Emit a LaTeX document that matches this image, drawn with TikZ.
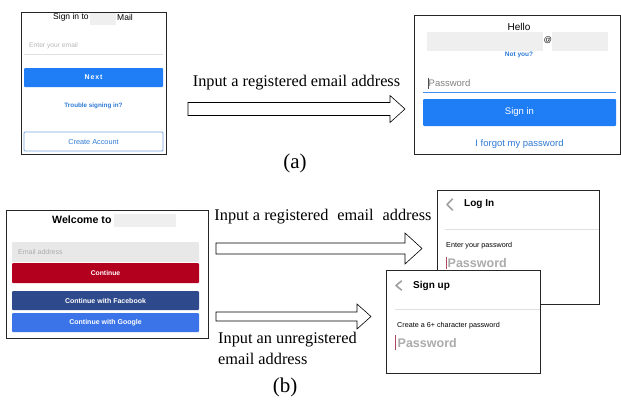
\documentclass[tikz,border=0pt]{standalone}
\usepackage{fontspec}
\setmainfont{Liberation Serif}
\newfontfamily\uifont{Liberation Sans}

\definecolor{btnblue}{HTML}{1F7EF6}
\definecolor{linkblue}{HTML}{2F7AD6}
\definecolor{fieldgray}{HTML}{EFEFEF}
\definecolor{hintgray}{HTML}{ABABAB}
\definecolor{pinred}{HTML}{B3001E}
\definecolor{fbblue}{HTML}{2E4A8C}
\definecolor{googblue}{HTML}{3B74E8}
\definecolor{cursorred}{HTML}{B0485F}
\definecolor{chevgray}{HTML}{A0A0A0}

% block arrow: left x, head start x, tip x, mid y, half shaft, half head
\newcommand\blockarrow[6]{%
  \draw[arrowbody] (#1,#4-#5) -- (#2,#4-#5) -- (#2,#4-#6) -- (#3,#4)
    -- (#2,#4+#6) -- (#2,#4+#5) -- (#1,#4+#5) -- cycle;}

\begin{document}
\begin{tikzpicture}[x=1pt,y=-1pt,
  ui/.style={inner sep=0pt, font=\uifont\fontsize{#1}{#1}\selectfont},
  uib/.style={inner sep=0pt, font=\uifont\bfseries\fontsize{#1}{#1}\selectfont},
  lbl/.style={inner sep=0pt, font=\fontsize{16.3}{18}\selectfont},
  tag/.style={inner sep=0pt, font=\fontsize{21}{23}\selectfont},
  panel/.style={draw=black!85, line width=0.8pt, fill=white},
  arrowbody/.style={draw=black, line width=0.6pt, fill=white, line join=miter},
  sep/.style={draw=black!12, line width=0.6pt},
  chev/.style={draw=chevgray, line width=1.6pt, line cap=round, line join=round},
  cursor/.style={draw=cursorred, line width=1.2pt},
  btn/.style={rounded corners=1pt}]
\useasboundingbox (0,0) rectangle (621,399);
\fill[white] (0,0) rectangle (621,399);

% ---------------- (a) sign-in screen ----------------
\draw[panel] (21,12) rectangle (166,154);
\node[ui=8.5, anchor=west] (a-title) at (53,17.5) {Sign in to};
\fill[fieldgray] (90,12.8) rectangle (116,25);
\node[ui=8.5, anchor=west] (a-mail) at (117,17.5) {Mail};
\node[ui=6.7, anchor=west, text=hintgray!85] (a-hint) at (29,46) {Enter your email};
\draw[sep] (24,54) -- (163,54);
\fill[btnblue, btn] (24,68) rectangle (163,87);
\node[uib=7, text=white] (a-next) at (93.5,77.5) {\addfontfeature{LetterSpace=12}Next};
\node[ui=6.3, text=linkblue] (a-trouble) at (93.5,106) {\bfseries Trouble signing in?};
\draw[draw=linkblue!65, line width=0.8pt, btn] (24,132) rectangle (163,151);
\node[ui=7.3, text=linkblue] (a-create) at (93.5,142) {Create Account};

% ---------------- (a) password screen ----------------
\draw[panel] (414,15) rectangle (620,154);
\node[ui=10] (a-hello) at (519,27) {Hello};
\fill[fieldgray] (427,32) rectangle (543,51);
\fill[fieldgray] (552,32) rectangle (608,51);
\node[ui=8] (a-at) at (548,40) {@};
\node[uib=6.5, text=linkblue] (a-notyou) at (519,55) {Not you?};
\draw[black!70, line width=0.6pt] (428,77.5) -- (428,88.5);
\node[ui=9.5, anchor=west, text=black!50] (a-pw) at (428.5,83) {Password};
\draw[btnblue!85, line width=1pt] (423,92) -- (616,92);
\fill[btnblue, btn] (423,99) rectangle (616,126);
\node[ui=9.5, text=white] (a-signin) at (519.5,112.5) {Sign in};
\node[ui=9.5, text=linkblue] (a-forgot) at (519.5,144) {I forgot my password};

% ---------------- (a) transition ----------------
\node[lbl, anchor=base] (a-label) at (296.5,86) {Input a registered email address};
\blockarrow{188}{390}{405}{109}{6.5}{13.5}
\node[tag] (a-tag) at (295,163) {(a)};

% ---------------- (b) welcome screen ----------------
\draw[panel] (6,210) rectangle (208,338);
\node[uib=10.6, anchor=west] (b-welcome) at (52,219.5) {Welcome to};
\fill[fieldgray] (114,214) rectangle (176,227);
\fill[black!9, btn] (12,242) rectangle (199,262);
\node[ui=7, anchor=west, text=hintgray] (b-hint) at (18,252) {Email address};
\fill[pinred, btn] (12,263) rectangle (199,283);
\node[uib=6.8, text=white] (b-cont) at (105.5,273) {Continue};
\fill[fbblue, btn] (12,291) rectangle (199,310);
\node[uib=7, text=white] (b-fb) at (105.5,300.5) {Continue with Facebook};
\fill[googblue, btn] (12,313) rectangle (199,332);
\node[uib=7, text=white] (b-google) at (105.5,322.5) {Continue with Google};

% ---------------- (b) transitions ----------------
\node[lbl, anchor=base] (b-reg) at (323,220)
  {Input a registered\hspace{0.3em} email\hspace{0.3em} address};
\blockarrow{216}{405}{422}{248.5}{5.5}{15.5}
\blockarrow{216}{357}{371}{316.5}{4.5}{12.5}
\node[lbl, anchor=base west] (b-unreg1) at (218,343) {Input an unregistered};
\node[lbl, anchor=base west] (b-unreg2) at (218,364) {email address};
\node[tag] (b-tag) at (285,387) {(b)};

% ---------------- (b) log-in screen ----------------
\draw[panel] (437,190) rectangle (599,304);
\draw[chev] (452.5,199) -- (447,204.5) -- (452.5,210);
\node[uib=10, anchor=west] (b-login) at (464,204.5) {Log In};
\draw[sep] (445,229) -- (599,229);
\node[ui=7.2, anchor=west] (b-enter) at (446,246) {Enter your password};
\draw[cursor] (446.5,257) -- (446.5,269);
\node[uib=12.5, anchor=west, text=hintgray] (b-pw1) at (447.5,263) {Password};

% ---------------- (b) sign-up screen ----------------
\draw[panel] (386,270) rectangle (540,373);
\draw[chev] (401.5,281) -- (396,285.5) -- (401.5,290);
\node[uib=10, anchor=west] (b-signup) at (413,285.5) {Sign up};
\draw[sep] (395,309) -- (540,309);
\node[ui=7.2, anchor=west] (b-create) at (397,326) {Create a 6+ character password};
\draw[cursor] (395.5,335) -- (395.5,350);
\node[uib=12.5, anchor=west, text=hintgray] (b-pw2) at (397.5,343) {Password};
\end{tikzpicture}
\end{document}
